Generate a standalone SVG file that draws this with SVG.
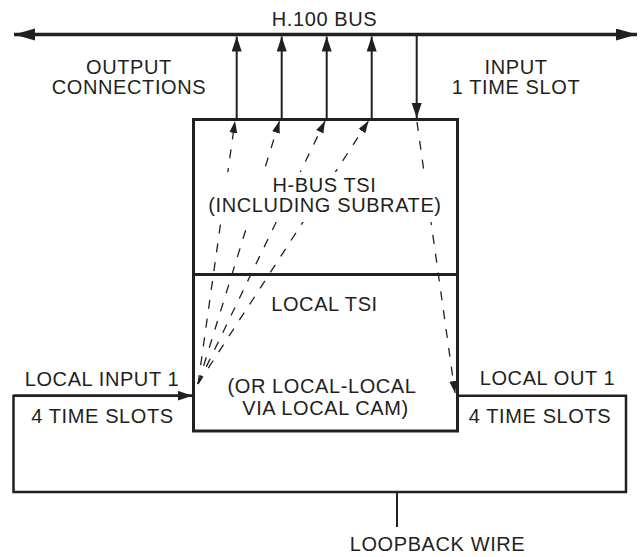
<svg xmlns="http://www.w3.org/2000/svg" width="644" height="557" viewBox="0 0 644 557">
<style>
text{font-family:"Liberation Sans",Arial,sans-serif;font-size:20px;letter-spacing:0.6px;fill:#231f20;text-anchor:middle}
.solid{stroke:#231f20;fill:none}
.dash{stroke:#231f20;fill:none;stroke-width:1.3;stroke-dasharray:9 10}
</style>
<defs>
<marker id="busHead" markerUnits="userSpaceOnUse" markerWidth="22" markerHeight="13" refX="21" refY="6" orient="auto-start-reverse"><path d="M0,0 L21,6 L0,12 z" fill="#231f20"/></marker>
<marker id="head" markerUnits="userSpaceOnUse" markerWidth="16" markerHeight="11" refX="15" refY="5" orient="auto"><path d="M0,0 L15,5 L0,10 z" fill="#231f20"/></marker>
<marker id="dhead" markerUnits="userSpaceOnUse" markerWidth="13" markerHeight="9" refX="12" refY="4" orient="auto"><path d="M0,0 L12,4 L0,8 z" fill="#231f20"/></marker>
</defs>
<rect width="644" height="557" fill="#fff"/>
<g id="bus">
<line class="solid" x1="14" y1="34.5" x2="637" y2="34.5" stroke-width="3.5" marker-start="url(#busHead)" marker-end="url(#busHead)"/>
<text x="324.5" y="26">H.100 BUS</text>
</g>
<g id="tsi">
<rect class="solid" x="193.5" y="119.5" width="264" height="311.5" stroke-width="3"/>
<line class="solid" x1="193.5" y1="274.5" x2="457.5" y2="274.5" stroke-width="3"/>
</g>
<g id="loop">
<path class="solid" d="M192.5,395.7 H13.5 V492 H626 V395.7 H459" stroke-width="2.5"/>
<line class="solid" x1="397" y1="492" x2="397" y2="527" stroke-width="2"/>
</g>
<g id="connectors">
<line class="solid" x1="236.7" y1="119.5" x2="236.7" y2="36.5" stroke-width="2" marker-end="url(#head)"/>
<line class="solid" x1="281.7" y1="119.5" x2="281.7" y2="36.5" stroke-width="2" marker-end="url(#head)"/>
<line class="solid" x1="326.7" y1="119.5" x2="326.7" y2="36.5" stroke-width="2" marker-end="url(#head)"/>
<line class="solid" x1="371.7" y1="119.5" x2="371.7" y2="36.5" stroke-width="2" marker-end="url(#head)"/>
<line class="solid" x1="416.7" y1="36" x2="416.7" y2="118" stroke-width="2" marker-end="url(#head)"/>
<line class="solid" x1="14" y1="395.7" x2="192.5" y2="395.7" stroke-width="2.5" marker-end="url(#head)"/>
<line class="dash" x1="198" y1="384" x2="235" y2="121" marker-end="url(#dhead)"/>
<line class="dash" x1="198" y1="384" x2="279.5" y2="121" marker-end="url(#dhead)"/>
<line class="dash" x1="198" y1="384" x2="325" y2="121" marker-end="url(#dhead)"/>
<line class="dash" x1="198" y1="384" x2="368.5" y2="121" marker-end="url(#dhead)"/>
<line class="dash" x1="417" y1="122" x2="455" y2="393" marker-end="url(#dhead)"/>
</g>
<g id="labels">
<rect x="203" y="172" width="244" height="50" fill="#fff"/>
<text x="324.5" y="191.7">H-BUS TSI</text>
<text x="325" y="212.3">(INCLUDING SUBRATE)</text>
<text x="324.5" y="310.7">LOCAL TSI</text>
<text x="322" y="393.3">(OR LOCAL-LOCAL</text>
<text x="325.5" y="415">VIA LOCAL CAM)</text>
<text x="129" y="73.5">OUTPUT</text>
<text x="129" y="93.5">CONNECTIONS</text>
<text x="516" y="73.5">INPUT</text>
<text x="516" y="93.5">1 TIME SLOT</text>
<text x="102" y="386">LOCAL INPUT 1</text>
<text x="102.5" y="423.3">4 TIME SLOTS</text>
<text x="547.5" y="385">LOCAL OUT 1</text>
<text x="540" y="423.3">4 TIME SLOTS</text>
<text x="437.5" y="550.7">LOOPBACK WIRE</text>
</g>
</svg>
